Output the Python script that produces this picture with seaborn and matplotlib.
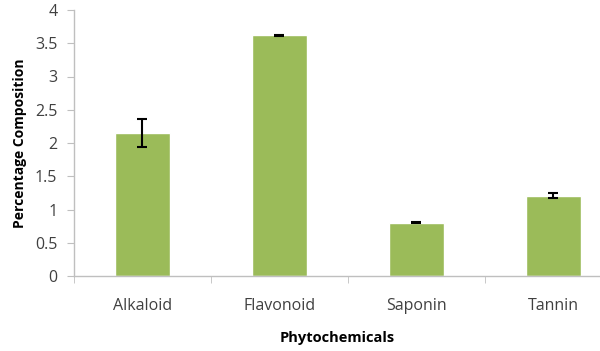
import numpy as np
import pandas as pd
import seaborn as sns
import matplotlib.pyplot as plt

# === Dati ===
categories = ['Alkaloid', 'Flavonoid', 'Saponin', 'Tannin']
values = [2.15, 3.62, 0.80, 1.21]
errors = [0.21, 0.01, 0.01, 0.04]

df = pd.DataFrame({'Phytochemicals': categories, 'Percentage Composition': values})

sns.set_style('white')
plt.rcParams['font.family'] = ['Open Sans', 'DejaVu Sans']

fig = plt.figure(figsize=(6, 3.51), dpi=100)
ax = fig.add_axes([74 / 600, 1 - 276 / 351, 526 / 600, 266 / 351])

sns.barplot(data=df, x='Phytochemicals', y='Percentage Composition',
            color='#9BBB59', saturation=1, width=0.4, errorbar=None, ax=ax)
ax.errorbar(np.arange(len(categories)), values, yerr=errors, fmt='none',
            ecolor='black', elinewidth=1.5, capsize=3.5, capthick=1.5)

# === Assi ===
ax.set_yticks(np.arange(0, 4.01, 0.5))
ax.set_yticklabels(['0', '0.5', '1', '1.5', '2', '2.5', '3', '3.5', '4'])
ax.set_xticks(np.arange(len(categories)))
ax.set_xticks(np.arange(-0.5, len(categories), 1), minor=True)
# limiti dopo i tick (set_xticks allarga la vista)
ax.set_ylim(0, 4)
ax.set_xlim(-0.5, 3.34)

for s in ['top', 'right']:
    ax.spines[s].set_visible(False)
for s in ['left', 'bottom']:
    ax.spines[s].set_color('#BFBFBF')
    ax.spines[s].set_linewidth(1)

ax.tick_params(axis='y', which='major', left=True, length=5, color='#BFBFBF',
               labelsize=11.5, labelcolor='#404040', pad=7)
ax.tick_params(axis='x', which='major', bottom=False, length=0,
               labelsize=11.5, labelcolor='#404040', pad=16)
ax.tick_params(axis='x', which='minor', bottom=True, length=5, color='#BFBFBF')

ax.set_xlabel('Phytochemicals', fontsize=10.5, fontweight='bold', color='black', labelpad=12)
ax.set_ylabel('Percentage Composition', fontsize=10, fontweight='bold', color='black', labelpad=6)

fig.savefig('out.png', dpi=100)
